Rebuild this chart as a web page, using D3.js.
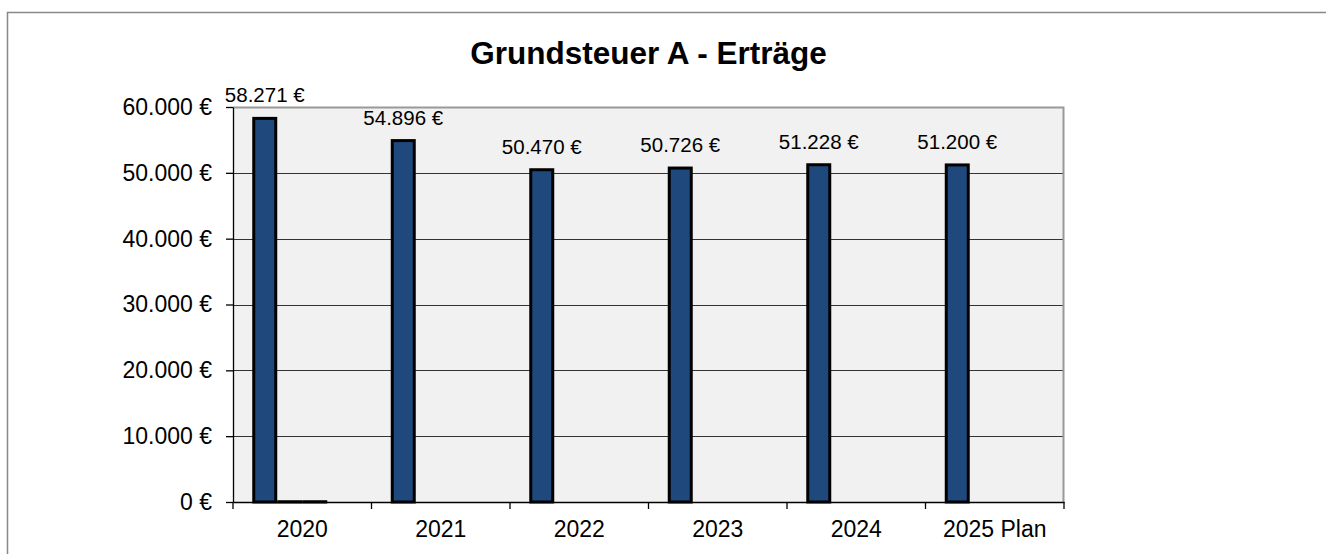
<!DOCTYPE html>
<html>
<head>
<meta charset="utf-8">
<script src="https://cdn.jsdelivr.net/npm/d3@7"></script>
<style>
  body { margin: 0; background: #fff; }
  svg { display: block; font-family: "Liberation Sans", Arial, sans-serif; }
</style>
</head>
<body>
<script>
// data
const years = ["2020", "2021", "2022", "2023", "2024", "2025 Plan"]
const ertraege = [58271, 54896, 50470, 50726, 51228, 51200]
// two near-zero series only visible in 2020, one empty series
const serieB = [40, 0, 0, 0, 0, 0]
const serieC = [40, 0, 0, 0, 0, 0]
const serieD = [0, 0, 0, 0, 0, 0]
const yTicks = [0, 10000, 20000, 30000, 40000, 50000, 60000]
const title = "Grundsteuer A - Erträge"

const width = 1326
const height = 554
const margin = {top: 107, right: 262, bottom: 52, left: 233}

const de = d3.formatLocale({decimal: ",", thousands: ".", grouping: [3], currency: ["", " €"]})
const euro = de.format("$,.0f")

const svg = d3.select("body").append("svg")
  .attr("width", width)
  .attr("height", height)

// outer chart frame (runs off right and bottom edge)
svg.append("rect")
  .attr("x", 7.5).attr("y", 12.5)
  .attr("width", width).attr("height", height)
  .attr("fill", "none")
  .attr("stroke", "#888")
  .attr("stroke-width", 1.5)

const x0 = d3.scaleBand()
  .domain(years)
  .range([margin.left, width - margin.right])

const series = [ertraege, serieB, serieC, serieD]
const x1 = d3.scaleBand()
  .domain(d3.range(series.length))
  .range([0, x0.bandwidth()])
  .paddingOuter(0.77)

const y = d3.scaleLinear()
  .domain([0, 60000])
  .range([height - margin.bottom, margin.top])

// plot area
svg.append("rect")
  .attr("x", margin.left).attr("y", margin.top)
  .attr("width", width - margin.right - margin.left)
  .attr("height", height - margin.bottom - margin.top)
  .attr("fill", "#f1f1f1")

// gridlines
svg.append("g")
  .selectAll("line")
  .data(yTicks.slice(1, -1))
  .enter().append("line")
  .attr("x1", margin.left).attr("x2", width - margin.right)
  .attr("y1", d => Math.round(y(d)) + 0.5)
  .attr("y2", d => Math.round(y(d)) + 0.5)
  .attr("stroke", "#333")
  .attr("stroke-width", 1)

// grey border top/right
svg.append("path")
  .attr("d", `M${margin.left},${margin.top + 0.5}H${width - margin.right - 0.5}V${height - margin.bottom}`)
  .attr("fill", "none")
  .attr("stroke", "#999")
  .attr("stroke-width", 2)

// bars
const groups = svg.append("g")
  .selectAll("g")
  .data(years)
  .enter().append("g")
  .attr("transform", d => "translate(" + x0(d) + ",0)")

groups.selectAll("rect")
  .data((d, i) => series.map((s, k) => ({k: k, v: s[i]})).filter(o => o.v > 0))
  .enter().append("rect")
  .attr("x", d => x1(d.k) + 1.5)
  .attr("width", x1.bandwidth() - 3)
  .attr("y", d => y(d.v))
  .attr("height", d => y(0) - y(d.v))
  .attr("fill", "#1f497d")
  .attr("stroke", "#000")
  .attr("stroke-width", 3)

// value labels
svg.append("g")
  .selectAll("text")
  .data(ertraege)
  .enter().append("text")
  .attr("x", (d, i) => x0(years[i]) + x1(0) + x1.bandwidth() / 2)
  .attr("y", d => y(d) - 16)
  .attr("text-anchor", "middle")
  .attr("font-size", "20.5px")
  .attr("fill", "#000")
  .text(d => euro(d))

// y axis
const yAxis = d3.axisLeft(y)
  .tickValues(yTicks)
  .tickFormat(euro)
  .tickSizeInner(7)
  .tickSizeOuter(0)
  .tickPadding(14)

const gY = svg.append("g")
  .attr("transform", "translate(" + margin.left + ",0)")
  .call(yAxis)
gY.selectAll("text").attr("font-size", "23px").attr("fill", "#000").attr("font-family", "Liberation Sans, Arial, sans-serif")
gY.selectAll("line, path").attr("stroke", "#000").attr("stroke-width", 1.3)

// x axis
const xAxis = d3.axisBottom(x0)
  .tickSize(0)
  .tickPadding(19)
const gX = svg.append("g")
  .attr("transform", "translate(0," + (height - margin.bottom) + ")")
  .call(xAxis)
gX.selectAll("text").attr("font-size", "23px").attr("fill", "#000").attr("font-family", "Liberation Sans, Arial, sans-serif")
gX.select("path").attr("stroke", "#000").attr("stroke-width", 1.3)

// category separators on x axis
gX.append("g")
  .selectAll("line")
  .data(years.concat(["end"]))
  .enter().append("line")
  .attr("x1", (d, i) => i < years.length ? x0(d) : x0.range()[1])
  .attr("x2", (d, i) => i < years.length ? x0(d) : x0.range()[1])
  .attr("y1", 0).attr("y2", 7)
  .attr("stroke", "#000")
  .attr("stroke-width", 1.3)

// title
svg.append("text")
  .attr("x", (margin.left + width - margin.right) / 2)
  .attr("y", 64)
  .attr("text-anchor", "middle")
  .attr("font-size", "31.5px")
  .attr("font-weight", "bold")
  .text(title)
</script>
</body>
</html>
